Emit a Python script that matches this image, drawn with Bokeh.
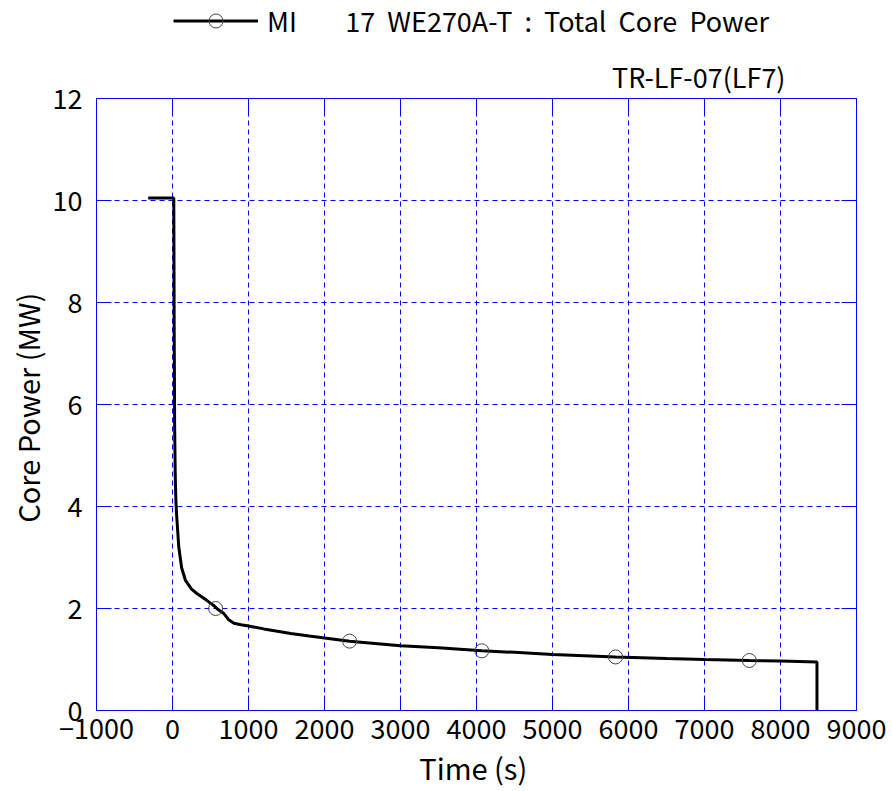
from bokeh.plotting import figure
from bokeh.models import Legend, LegendItem, FixedTicker, Range1d, LinearAxis
from bokeh.layouts import column
from bokeh.embed import file_html
from bokeh.resources import INLINE

# data
time_s = [-320, 0, 17, 22, 28, 36, 45, 53, 83, 120, 171, 250, 325, 450, 541, 600,
          676, 740, 808, 900, 984, 1200, 1400, 1555, 1800, 2000, 2330, 2700, 3000,
          3500, 4070, 4500, 5000, 5500, 5830, 6500, 7000, 7590, 8000, 8480, 8480]
power_mw = [10.05, 10.05, 10.05, 7.5, 5.6, 4.6, 4.1, 3.86, 3.2, 2.8, 2.55, 2.38, 2.29,
            2.16, 2.06, 1.98, 1.9, 1.78, 1.71, 1.68, 1.66, 1.6, 1.55, 1.51, 1.46, 1.42,
            1.36, 1.31, 1.27, 1.23, 1.17, 1.14, 1.1, 1.07, 1.05, 1.02, 1.0, 0.98, 0.97,
            0.95, 0.0]
marker_t = [567, 2330, 4070, 5830, 7590]
marker_p = [2.0, 1.36, 1.17, 1.05, 0.98]
x_ticks = [-1000, 0, 1000, 2000, 3000, 4000, 5000, 6000, 7000, 8000, 9000]
y_ticks = [0, 2, 4, 6, 8, 10, 12]
series_label = "MI        17  WE270A-T  :  Total  Core  Power"
case_label = "TR-LF-07(LF7)"

FONT = "Noto Sans CJK JP"
BLUE = "#0000ff"
W = 892
HEAD_H = 44
MAIN_H = 791 - HEAD_H

# ---- header carrying the legend ----
head = figure(width=W, height=HEAD_H, output_backend="svg", toolbar_location=None,
              x_range=Range1d(-1000, 9000), y_range=Range1d(100, 101),
              x_axis_type=None, y_axis_type=None, title=None,
              min_border_left=96, min_border_right=36, min_border_top=0,
              min_border_bottom=0)
head.outline_line_color = None
head.background_fill_alpha = 0
h_ln = head.line(time_s, power_mw, line_color="black", line_width=3)
h_mk = head.scatter(marker_t, marker_p, marker="circle", size=14, fill_color=None,
                    line_color="#444444", line_width=1)
legend = Legend(items=[LegendItem(label=series_label, renderers=[h_ln, h_mk])],
                location=(77, 4), orientation="horizontal",
                glyph_width=85, glyph_height=35, label_standoff=9,
                label_text_font=FONT, label_text_font_size="27px",
                label_text_color="black",
                border_line_color=None, background_fill_alpha=0,
                padding=0, margin=0, spacing=0)
head.add_layout(legend)

# ---- main chart ----
p = figure(width=W, height=MAIN_H, output_backend="svg", toolbar_location=None,
           x_range=Range1d(-1000, 9000), y_range=Range1d(0, 12),
           min_border_left=96, min_border_right=36, min_border_top=54,
           min_border_bottom=81)
p.title.text = case_label
p.title.align = "right"
p.title.offset = 71
p.title.text_font = FONT
p.title.text_font_size = "27px"
p.title.text_font_style = "normal"
p.title.text_color = "black"
p.title.standoff = 6

p.outline_line_color = BLUE
p.outline_line_width = 1

p.add_layout(LinearAxis(), "right")
p.add_layout(LinearAxis(), "above")

for ax in p.xaxis + p.yaxis:
    ax.axis_line_color = BLUE
    ax.major_tick_line_color = BLUE
    ax.major_tick_in = 15
    ax.major_tick_out = 0
    ax.minor_tick_line_color = None
    ax.major_label_text_font = FONT
    ax.major_label_text_font_size = "27px"
    ax.major_label_text_color = "black"
    ax.axis_label_text_font = FONT
    ax.axis_label_text_font_size = "29px"
    ax.axis_label_text_font_style = "normal"
    ax.axis_label_text_color = "black"

for ax in p.xaxis:
    ax.ticker = FixedTicker(ticks=x_ticks)
for ax in p.yaxis:
    ax.ticker = FixedTicker(ticks=y_ticks)

for ax, ticks in ((p.above[0], x_ticks), (p.right[0], y_ticks)):
    ax.major_label_overrides = {t: "" for t in ticks}
    ax.major_label_standoff = 0
    ax.major_label_text_font_size = "0px"

p.below[0].axis_label = "Time  (s)"
p.left[0].axis_label = "Core Power  (MW)"
p.below[0].major_label_standoff = 8
p.left[0].major_label_standoff = 14
p.below[0].axis_label_standoff = 4
p.left[0].axis_label_standoff = 2

for g in (p.xgrid, p.ygrid):
    g.grid_line_color = BLUE
    g.grid_line_dash = "5 4"
    g.grid_line_width = 1

p.line(time_s, power_mw, line_color="black", line_width=3)
p.scatter(marker_t, marker_p, marker="circle", size=14, fill_color=None,
          line_color="#444444", line_width=1)

layout = column(head, p, spacing=0)
open("out.html", "w").write(file_html(layout, INLINE))
